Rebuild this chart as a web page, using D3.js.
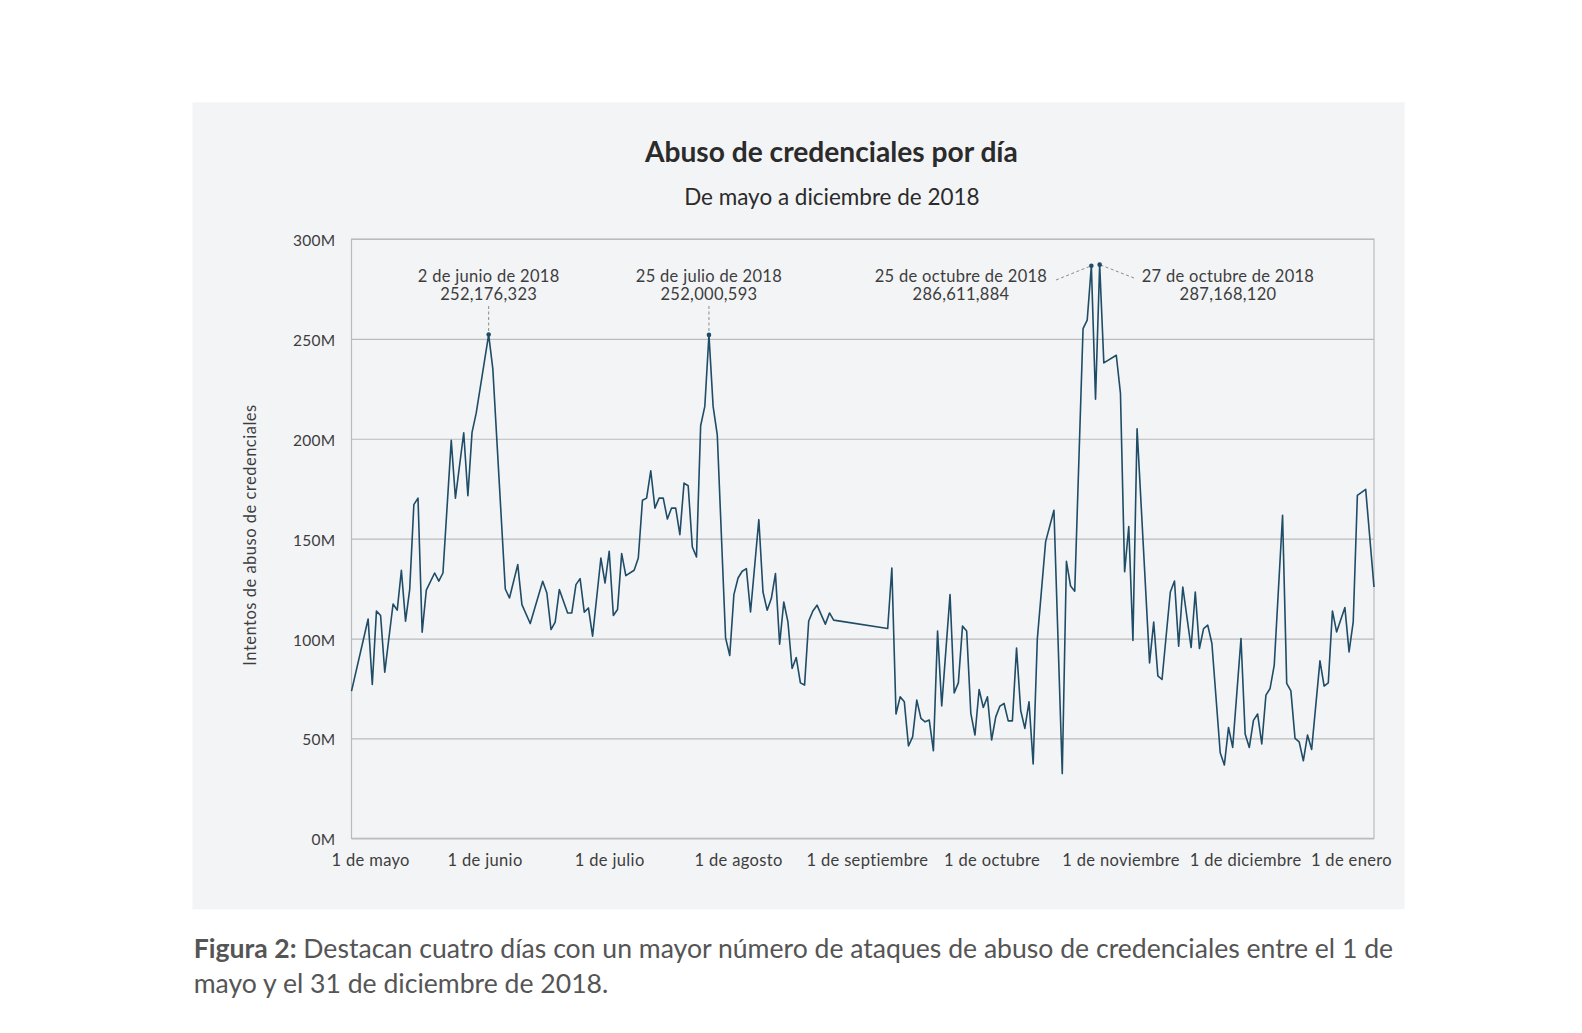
<!DOCTYPE html>
<html><head><meta charset="utf-8">
<script src="https://cdn.jsdelivr.net/npm/d3@7"></script>
<style>
body{margin:0;background:#ffffff;}
svg{display:block;font-family:Lato,"Open Sans","Noto Sans",sans-serif;}
</style>
</head><body>
<svg id="c" width="1582" height="1033"></svg>
<script>
// ---- data (values in millions of attempts) ----
const dates = [
"2018-04-30","2018-05-04","2018-05-05","2018-05-06","2018-05-07","2018-05-08","2018-05-10","2018-05-11","2018-05-12","2018-05-13",
"2018-05-14","2018-05-15","2018-05-16","2018-05-17","2018-05-18","2018-05-20","2018-05-21","2018-05-22","2018-05-24","2018-05-25",
"2018-05-27","2018-05-28","2018-05-29","2018-05-30","2018-06-02","2018-06-03","2018-06-06","2018-06-07","2018-06-09","2018-06-10",
"2018-06-12","2018-06-15","2018-06-16","2018-06-17","2018-06-18","2018-06-19","2018-06-21","2018-06-22","2018-06-23","2018-06-24",
"2018-06-25","2018-06-26","2018-06-27","2018-06-29","2018-06-30","2018-07-01","2018-07-02","2018-07-03","2018-07-04","2018-07-05",
"2018-07-07","2018-07-08","2018-07-09","2018-07-10","2018-07-11","2018-07-12","2018-07-13","2018-07-14","2018-07-15","2018-07-16",
"2018-07-17","2018-07-18","2018-07-19","2018-07-20","2018-07-21","2018-07-22","2018-07-23","2018-07-24","2018-07-25","2018-07-26",
"2018-07-27","2018-07-29","2018-07-30","2018-07-31","2018-08-01","2018-08-02","2018-08-03","2018-08-04","2018-08-06","2018-08-07",
"2018-08-08","2018-08-09","2018-08-10","2018-08-11","2018-08-12","2018-08-13","2018-08-14","2018-08-15","2018-08-16","2018-08-17",
"2018-08-18","2018-08-19","2018-08-20","2018-08-22","2018-08-23","2018-08-24","2018-09-06","2018-09-07","2018-09-08","2018-09-09",
"2018-09-10","2018-09-11","2018-09-12","2018-09-13","2018-09-14","2018-09-15","2018-09-16","2018-09-17","2018-09-18","2018-09-19",
"2018-09-21","2018-09-22","2018-09-23","2018-09-24","2018-09-25","2018-09-26","2018-09-27","2018-09-28","2018-09-29","2018-09-30",
"2018-10-01","2018-10-02","2018-10-03","2018-10-04","2018-10-05","2018-10-06","2018-10-07","2018-10-08","2018-10-09","2018-10-10",
"2018-10-11","2018-10-12","2018-10-14","2018-10-16","2018-10-18","2018-10-19","2018-10-20","2018-10-21","2018-10-23","2018-10-24",
"2018-10-25","2018-10-26","2018-10-27","2018-10-28","2018-10-31","2018-11-01","2018-11-02","2018-11-03","2018-11-04","2018-11-05",
"2018-11-08","2018-11-09","2018-11-10","2018-11-11","2018-11-13","2018-11-14","2018-11-15","2018-11-16","2018-11-18","2018-11-19",
"2018-11-20","2018-11-21","2018-11-22","2018-11-23","2018-11-25","2018-11-26","2018-11-27","2018-11-28","2018-11-30","2018-12-01",
"2018-12-02","2018-12-03","2018-12-04","2018-12-05","2018-12-06","2018-12-07","2018-12-08","2018-12-10","2018-12-11","2018-12-12",
"2018-12-13","2018-12-14","2018-12-15","2018-12-16","2018-12-17","2018-12-19","2018-12-20","2018-12-21","2018-12-22","2018-12-23",
"2018-12-25","2018-12-26","2018-12-27","2018-12-28","2018-12-30","2019-01-01"
];
const attempts = [
73.7,109.8,77,113.7,111.5,83.2,117.3,114.2,134.2,108.7,
124.5,167,170.3,103.2,124.2,132.8,128.7,132.8,199.2,170.3,
203,171.5,203.2,212.8,252.176323,235,124.8,120.3,137,117,
107.5,128.7,122.8,104.5,108.2,124.5,112.8,112.8,127,130,
113.2,115.3,101.2,140.3,127.8,143.7,111.5,114.5,142.5,131.5,
134.2,140.3,169.2,170.3,184,165.3,170.3,170.3,159.8,165.3,
165.3,152,177.8,176.5,145.8,140.8,206.5,216.2,252.000593,216.2,
202,100.3,91.5,122,130.3,133.7,135,113.3,159.5,123.3,
114.2,120,132.5,97.2,118.3,108.3,85,90.5,77.8,76.7,
108.8,113.8,116.7,107.2,112.8,109.2,105,135.3,62.2,70.8,
68.3,46.2,50.8,69.2,60,58.3,59.2,43.8,103.7,66.3,
122,72.8,77.8,106.2,103.8,62.5,51.7,74.5,65.5,70.8,
49.2,60.8,66.2,67.5,58.8,58.8,95.2,64,55,68.3,
37.2,99.8,148.5,164.2,32.4,138.6,126.3,123.7,255.1,259.4,
286.611884,219.8,287.16812,238,241.8,222.7,133.4,156,99,205,
87.8,108.2,81.3,79.5,123.3,128.8,96.2,125.8,95.5,123.3,
95,105,106.7,97.5,42.8,36.7,55.5,45.5,100,52.2,
45.5,59,62.2,47.2,71.7,75,86.7,161.7,77.5,73.8,
50,48.3,38.8,51.7,44.5,88.8,76.2,77.8,113.8,103.3,
115.5,93.3,108.3,171.7,174.7,125.8
];
const monthTicks = ["2018-05-01","2018-06-01","2018-07-01","2018-08-01","2018-09-01","2018-10-01","2018-11-01","2018-12-01","2019-01-01"];
const monthLabels = ["1 de mayo","1 de junio","1 de julio","1 de agosto","1 de septiembre","1 de octubre","1 de noviembre","1 de diciembre","1 de enero"];
const yTicks = [0,50,100,150,200,250,300];
const peakDates = ["2018-06-02","2018-07-25","2018-10-25","2018-10-27"];
const peakValues = [252.176323,252.000593,286.611884,287.16812];
const peakTitles = ["2 de junio de 2018","25 de julio de 2018","25 de octubre de 2018","27 de octubre de 2018"];
const peakNumbers = ["252,176,323","252,000,593","286,611,884","287,168,120"];

// ---- layout ----
const L = 351.5, R = 1374, T = 239, B = 838.3;
const lineColor = "#1f4c66", gridColor = "#b9bbbd", textColor = "#3d3d3d";
const parse = d3.utcParse("%Y-%m-%d");
const pts = dates.map((d,i)=>({date:parse(d), v:attempts[i]}));

const svg = d3.select("#c");
svg.append("rect").attr("x",192.5).attr("y",102.3).attr("width",1212).attr("height",807).attr("fill","#f3f4f6");

const x = d3.scaleUtc().domain(d3.extent(pts,d=>d.date)).range([L,R]);
const y = d3.scaleLinear().domain([0,300]).range([B,T]);

// gridlines
svg.append("g").attr("transform",`translate(${L},0)`)
  .call(d3.axisLeft(y).tickValues(yTicks).tickSize(-(R-L)).tickFormat(""))
  .call(g=>g.select(".domain").remove())
  .call(g=>g.selectAll("line").attr("stroke",gridColor).attr("stroke-width",1.2));
// frame
svg.append("rect").attr("x",L).attr("y",T).attr("width",R-L).attr("height",B-T)
  .attr("fill","none").attr("stroke",gridColor).attr("stroke-width",1.2);

// y axis labels
svg.append("g").attr("transform",`translate(${L},0)`)
  .call(d3.axisLeft(y).tickValues(yTicks).tickSize(0).tickPadding(16).tickFormat(d=>d+"M"))
  .call(g=>g.select(".domain").remove())
  .call(g=>g.selectAll("text").attr("fill",textColor).style("font-size","15.5px").style("letter-spacing","0.3px").style("font-family","Lato, sans-serif").attr("dy","0.42em"));

// x axis labels
const xg = svg.append("g").attr("transform",`translate(0,${B})`)
  .call(d3.axisBottom(x).tickValues(monthTicks.map(parse)).tickSize(0).tickPadding(16).tickFormat((d,i)=>monthLabels[i]))
  .call(g=>g.select(".domain").remove())
  .call(g=>g.selectAll("text").attr("fill",textColor).style("font-size","16.5px").style("letter-spacing","0.35px").style("font-family","Lato, sans-serif"));
xg.selectAll(".tick").each(function(){
  const t = d3.select(this);
  const tx = +t.attr("transform").match(/translate\(([-\d.]+)/)[1];
  const w = t.select("text").node().getComputedTextLength();
  const cx = Math.max(L-20+w/2, Math.min(R+18-w/2, tx));
  t.select("text").attr("x", cx - tx);
});

// y axis title
svg.append("text").attr("transform","translate(256,535) rotate(-90)").attr("text-anchor","middle")
  .attr("fill",textColor).style("font-size","16.5px").style("letter-spacing","0.5px").text("Intentos de abuso de credenciales");

// line
svg.append("path").datum(pts).attr("fill","none").attr("stroke",lineColor).attr("stroke-width",1.6)
  .attr("stroke-linejoin","round")
  .attr("d", d3.line().x(d=>x(d.date)).y(d=>y(d.v)));

// annotations
const ann = svg.append("g").style("font-size","16.5px").style("letter-spacing","0.3px").attr("fill",textColor);
peakDates.forEach((ds,i)=>{
  const px = x(parse(ds)), py = y(peakValues[i]);
  let tx;
  if (i < 2) { tx = px; }
  else if (i === 2) { tx = 961; }
  else { tx = 1228; }
  ann.append("text").attr("x",tx).attr("y",281.5).attr("text-anchor","middle").text(peakTitles[i]);
  ann.append("text").attr("x",tx).attr("y",299.5).attr("text-anchor","middle").text(peakNumbers[i]);
  let x1,y1;
  if (i < 2) { x1 = px; y1 = 306; }
  else if (i === 2) { x1 = 1056; y1 = 280; }
  else { x1 = 1134; y1 = 278; }
  svg.append("line").attr("x1",x1).attr("y1",y1).attr("x2",px).attr("y2",py)
    .attr("stroke","#8a8a8a").attr("stroke-width",1).attr("stroke-dasharray","3,2.5");
  svg.append("circle").attr("cx",px).attr("cy",py).attr("r",2.3).attr("fill",lineColor);
});

// title + subtitle
function fit(sel, width){
  const w = sel.node().getComputedTextLength();
  const fs = parseFloat(sel.style("font-size"));
  sel.style("font-size",(fs*width/w)+"px");
}
const title = svg.append("text").attr("x",831.4).attr("y",161.5).attr("text-anchor","middle")
  .attr("fill","#2b2b2b").style("font-weight","700").style("font-size","26px").text("Abuso de credenciales por día");
fit(title, 373);
const sub = svg.append("text").attr("x",831.9).attr("y",204.5).attr("text-anchor","middle")
  .attr("fill","#2b2b2b").style("font-size","19px").text("De mayo a diciembre de 2018");
fit(sub, 295.7);

// caption
const cap1 = svg.append("text").attr("x",193.7).attr("y",958).attr("fill","#555555").style("font-size","24px");
cap1.append("tspan").style("font-weight","700").text("Figura 2:");
cap1.append("tspan").text(" Destacan cuatro días con un mayor número de ataques de abuso de credenciales entre el 1 de");
const w1 = cap1.node().getComputedTextLength();
const capFs = 24*1200/w1;
cap1.style("font-size",capFs+"px");
svg.append("text").attr("x",193.7).attr("y",992.5).attr("fill","#555555").style("font-size",capFs+"px")
  .text("mayo y el 31 de diciembre de 2018.");
</script>
</body></html>
